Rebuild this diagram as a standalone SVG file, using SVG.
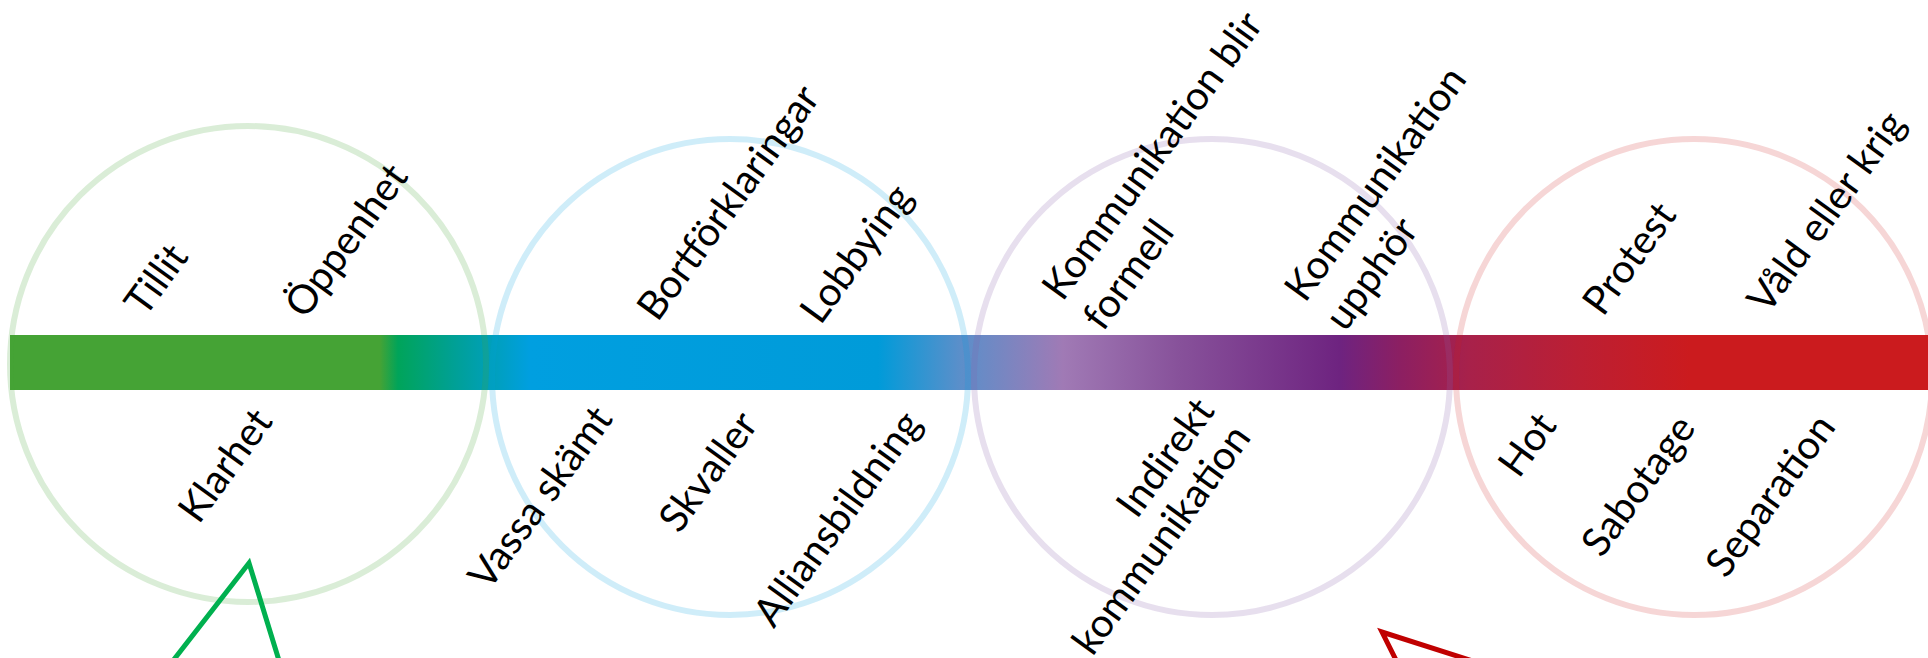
<svg xmlns="http://www.w3.org/2000/svg" width="1928" height="658" viewBox="0 0 1928 658">
  <defs>
    <linearGradient id="barGrad" gradientUnits="userSpaceOnUse" x1="10" y1="0" x2="1928" y2="0">
      <stop offset="0" stop-color="#45a335"/>
      <stop offset="0.1929" stop-color="#45a335"/>
      <stop offset="0.2023" stop-color="#00a45a"/>
      <stop offset="0.2320" stop-color="#00a096"/>
      <stop offset="0.2711" stop-color="#009fe0"/>
      <stop offset="0.4526" stop-color="#009bd9"/>
      <stop offset="0.4953" stop-color="#5b8fca"/>
      <stop offset="0.5490" stop-color="#a07ab5"/>
      <stop offset="0.6100" stop-color="#87519a"/>
      <stop offset="0.6934" stop-color="#6e2380"/>
      <stop offset="0.7247" stop-color="#8c1f62"/>
      <stop offset="0.7612" stop-color="#a8214a"/>
      <stop offset="0.8186" stop-color="#bc1f33"/>
      <stop offset="0.8759" stop-color="#cb1b1e"/>
      <stop offset="1" stop-color="#cb1b1e"/>
    </linearGradient>
  </defs>
  <style>
    .ring { fill: none; stroke-width: 6; }
    .t { font-family: Lato, "Open Sans", "Liberation Sans", sans-serif; font-size: 40px; fill: #000; text-anchor: middle; }
    .ptr { fill: none; stroke-width: 5; stroke-linejoin: miter; }
  </style>
  <rect width="1928" height="658" fill="#ffffff"/>
  <rect id="bar" x="10" y="335" width="1918" height="55" fill="url(#barGrad)"/>

  <g id="stage-green">
    <circle class="ring" cx="248" cy="364" r="238" stroke="#45a335" stroke-opacity="0.2"/>
    <text class="t" transform="translate(157,280) rotate(-54)" dy="0.32em">Tillit</text>
    <text class="t" transform="translate(347,241) rotate(-54)" dy="0.32em">Öppenhet</text>
    <text class="t" transform="translate(226,466) rotate(-54)" dy="0.32em">Klarhet</text>
  </g>

  <g id="stage-blue">
    <circle class="ring" cx="730" cy="377" r="238" stroke="#009fe0" stroke-opacity="0.19"/>
    <text class="t" transform="translate(729,203) rotate(-54)" dy="0.32em">Bortförklaringar</text>
    <text class="t" transform="translate(857,254) rotate(-54)" dy="0.32em">Lobbying</text>
    <text class="t" transform="translate(541,498) rotate(-54)" dy="0.32em">Vassa skämt</text>
    <text class="t" transform="translate(709,472) rotate(-54)" dy="0.32em">Skvaller</text>
    <text class="t" transform="translate(838,519) rotate(-54)" dy="0.32em">Alliansbildning</text>
  </g>

  <g id="stage-purple">
    <circle class="ring" cx="1212" cy="377" r="238" stroke="#875faa" stroke-opacity="0.2"/>
    <text class="t" transform="translate(1153,156) rotate(-54)" dy="0.32em">Kommunikation blir</text>
    <text class="t" transform="translate(1129,275) rotate(-54)" dy="0.32em">formell</text>
    <text class="t" transform="translate(1376,184) rotate(-54)" dy="0.32em">Kommunikation</text>
    <text class="t" transform="translate(1372,274) rotate(-54)" dy="0.32em">upphör</text>
    <text class="t" transform="translate(1166,458) rotate(-54)" dy="0.32em">Indirekt</text>
    <text class="t" transform="translate(1162,540) rotate(-54)" dy="0.32em">kommunikation</text>
  </g>

  <g id="stage-red">
    <circle class="ring" cx="1694" cy="377" r="238" stroke="#cb1b1e" stroke-opacity="0.18"/>
    <text class="t" transform="translate(1630,259) rotate(-54)" dy="0.32em">Protest</text>
    <text class="t" transform="translate(1827,212) rotate(-54)" dy="0.32em">Våld eller krig</text>
    <text class="t" transform="translate(1528,445) rotate(-54)" dy="0.32em">Hot</text>
    <text class="t" transform="translate(1639,486) rotate(-54)" dy="0.32em">Sabotage</text>
    <text class="t" transform="translate(1771,496) rotate(-54)" dy="0.32em">Separation</text>
  </g>

  <g id="connectors">
    <path class="ptr" stroke="#00b04f" d="M158 680 L249 563 L285 680"/>
    <path class="ptr" stroke="#c00000" d="M1406 680 L1382 632 L1532 680"/>
  </g>
</svg>
